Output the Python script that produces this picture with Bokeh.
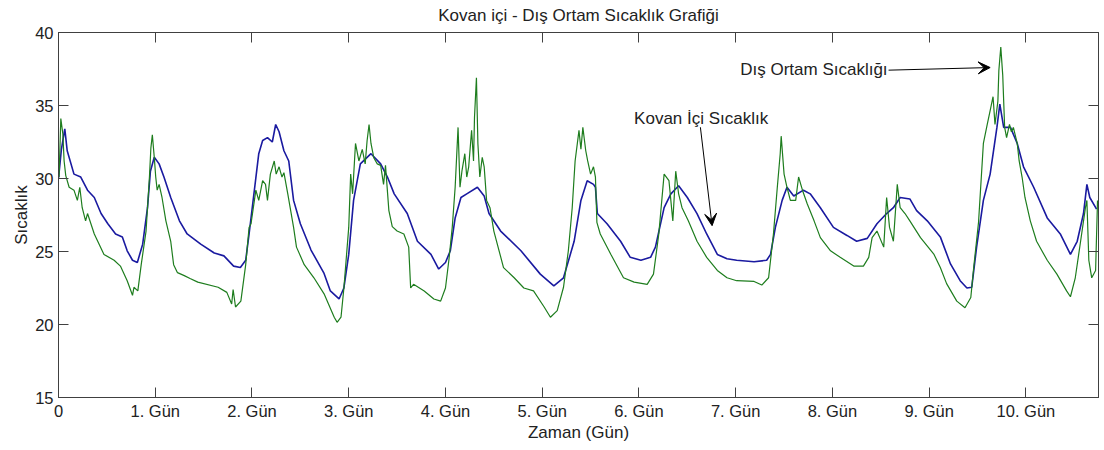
from bokeh.plotting import figure
from bokeh.models import Range1d, FixedTicker, LinearAxis, Label, Arrow, VeeHead
from bokeh.embed import file_html
from bokeh.resources import INLINE

# ---------------- data ----------------
title_text = "Kovan içi - Dış Ortam Sıcaklık Grafiği"
x_label = "Zaman (Gün)"
y_label = "Sıcaklık"

x_tick_values = [0, 1, 2, 3, 4, 5, 6, 7, 8, 9, 10]
x_tick_labels = ["0", "1. Gün", "2. Gün", "3. Gün", "4. Gün", "5. Gün",
                 "6. Gün", "7. Gün", "8. Gün", "9. Gün", "10. Gün"]
y_tick_values = [15, 20, 25, 30, 35, 40]

# Kovan içi (hive inside) temperature - blue
ic_gun = [
    0.00, 0.03, 0.065, 0.09, 0.16, 0.23, 0.30, 0.37, 0.44, 0.51,
    0.59, 0.66, 0.71, 0.765, 0.815, 0.87, 0.92, 0.95, 0.99, 1.04,
    1.09, 1.16, 1.25, 1.33, 1.47, 1.61, 1.71, 1.81, 1.88, 1.935,
    1.97, 2.02, 2.07, 2.11, 2.16, 2.21, 2.245, 2.28, 2.33, 2.38,
    2.43, 2.50, 2.61, 2.745, 2.81, 2.90, 2.95, 3.00, 3.05, 3.12,
    3.19, 3.23, 3.33, 3.40, 3.47, 3.605, 3.71, 3.85, 3.93, 4.00,
    4.05, 4.10, 4.16, 4.22, 4.33, 4.40, 4.45, 4.57, 4.78, 4.98,
    5.12, 5.22, 5.33, 5.40, 5.465, 5.53, 5.55, 5.57, 5.67, 5.81,
    5.91, 6.02, 6.12, 6.17, 6.26, 6.33, 6.41, 6.50, 6.60, 6.70,
    6.81, 6.91, 7.01, 7.19, 7.32, 7.36, 7.41, 7.48, 7.53, 7.60,
    7.70, 7.77, 7.875, 8.01, 8.15, 8.25, 8.36, 8.46, 8.56, 8.63,
    8.70, 8.80, 8.87, 8.98, 9.115, 9.22, 9.32, 9.39, 9.44, 9.49,
    9.56, 9.63, 9.70, 9.73, 9.77, 9.84, 9.91, 9.975, 10.08, 10.22,
    10.355, 10.46, 10.53, 10.595, 10.63, 10.66, 10.73,
]
ic_sicaklik = [
    30.0, 32.0, 33.4, 31.9, 30.3, 30.1, 29.2, 28.7, 27.6, 26.9,
    26.2, 26.0, 25.05, 24.4, 24.25, 25.5, 28.0, 30.5, 31.45, 31.0,
    30.1, 28.7, 27.1, 26.2, 25.5, 24.9, 24.7, 24.0, 23.9, 24.4,
    26.2, 28.95, 31.7, 32.6, 32.8, 32.5, 33.7, 33.2, 31.9, 31.2,
    28.5, 26.9, 25.1, 23.5, 22.3, 21.75, 22.5, 24.8, 28.5, 31.0,
    31.45, 31.7, 31.0, 30.1, 28.95, 27.6, 25.7, 24.8, 23.8, 24.25,
    25.05, 27.3, 28.7, 28.95, 29.4, 28.8, 27.6, 26.4, 25.05, 23.45,
    22.65, 23.2, 25.7, 28.5, 29.85, 29.6, 29.4, 27.6, 26.9, 25.7,
    24.6, 24.4, 24.6, 25.3, 28.0, 28.95, 29.5, 28.7, 27.6, 26.2,
    24.8, 24.5, 24.4, 24.3, 24.4, 24.8, 26.65, 28.5, 29.4, 28.8,
    29.2, 28.95, 28.0, 26.65, 26.1, 25.7, 25.9, 26.9, 27.6, 28.0,
    28.7, 28.6, 27.8, 27.1, 26.0, 24.15, 23.0, 22.5, 22.55, 25.3,
    28.5, 30.3, 33.5, 35.1, 33.5, 33.5, 32.4, 30.8, 29.4, 27.3,
    26.2, 24.8, 25.7, 27.6, 29.6, 28.7, 27.9,
]

# Dış ortam (outside) temperature - green
dis_gun = [
    0.006, 0.024, 0.045, 0.058, 0.075, 0.11, 0.16, 0.195, 0.22, 0.245,
    0.28, 0.30, 0.37, 0.47, 0.575, 0.64, 0.71, 0.765, 0.78, 0.82,
    0.855, 0.905, 0.94, 0.955, 0.97, 0.99, 1.005, 1.02, 1.04, 1.07,
    1.11, 1.16, 1.19, 1.23, 1.30, 1.36, 1.44, 1.65, 1.74, 1.79,
    1.805, 1.83, 1.885, 1.935, 1.97, 1.99, 2.04, 2.07, 2.11, 2.14,
    2.16, 2.19, 2.23, 2.25, 2.28, 2.31, 2.33, 2.37, 2.40, 2.43,
    2.46, 2.54, 2.64, 2.745, 2.85, 2.88, 2.92, 2.95, 3.00, 3.02,
    3.04, 3.07, 3.105, 3.14, 3.17, 3.19, 3.21, 3.23, 3.26, 3.295,
    3.33, 3.36, 3.38, 3.415, 3.45, 3.50, 3.57, 3.62, 3.64, 3.67,
    3.78, 3.88, 3.95, 4.00, 4.035, 4.07, 4.10, 4.13, 4.15, 4.17,
    4.20, 4.22, 4.24, 4.27, 4.29, 4.30, 4.32, 4.335, 4.355, 4.38,
    4.40, 4.425, 4.46, 4.50, 4.60, 4.71, 4.81, 4.91, 5.02, 5.085,
    5.155, 5.22, 5.27, 5.31, 5.34, 5.38, 5.40, 5.42, 5.45, 5.47,
    5.50, 5.53, 5.55, 5.565, 5.60, 5.71, 5.84, 5.95, 6.085, 6.15,
    6.205, 6.26, 6.31, 6.35, 6.38, 6.41, 6.445, 6.51, 6.60, 6.70,
    6.81, 6.91, 7.01, 7.19, 7.27, 7.34, 7.39, 7.43, 7.46, 7.47,
    7.50, 7.53, 7.565, 7.62, 7.65, 7.69, 7.74, 7.81, 7.875, 7.98,
    8.08, 8.22, 8.32, 8.375, 8.41, 8.46, 8.53, 8.56, 8.59, 8.63,
    8.67, 8.70, 8.75, 8.80, 8.91, 9.05, 9.115, 9.18, 9.285, 9.37,
    9.43, 9.46, 9.51, 9.56, 9.60, 9.63, 9.66, 9.68, 9.71, 9.72,
    9.74, 9.76, 9.78, 9.80, 9.83, 9.85, 9.87, 9.91, 9.93, 9.96,
    9.99, 10.045, 10.11, 10.22, 10.32, 10.42, 10.46, 10.51, 10.565, 10.615,
    10.63, 10.65, 10.68, 10.72, 10.74,
]
dis_sicaklik = [
    30.1, 34.1, 33.05, 31.2, 30.2, 29.4, 29.2, 28.5, 29.4, 28.0,
    27.1, 27.6, 26.2, 24.8, 24.4, 24.0, 23.0, 22.0, 22.55, 22.3,
    24.1, 26.4, 30.1, 32.1, 33.0, 31.45, 30.1, 29.2, 29.6, 28.7,
    27.1, 25.7, 24.1, 23.55, 23.35, 23.15, 22.9, 22.55, 22.2, 21.4,
    22.4, 21.2, 21.6, 24.1, 26.65, 26.9, 29.2, 28.5, 29.85, 29.6,
    28.5, 30.3, 31.2, 30.3, 30.8, 30.1, 30.4, 28.95, 27.8, 26.65,
    25.3, 24.1, 23.2, 22.1, 20.5, 20.15, 20.5, 22.5, 26.65, 30.3,
    28.95, 32.4, 31.2, 32.0, 31.0, 32.6, 33.7, 32.4, 31.4, 31.0,
    30.9, 29.6, 30.9, 27.8, 26.7, 26.4, 26.2, 25.3, 22.5, 22.75,
    22.3, 21.75, 21.6, 22.5, 24.4, 26.65, 29.4, 33.5, 29.4, 30.5,
    31.7, 30.1, 30.8, 33.3, 31.2, 34.2, 36.9, 32.4, 30.1, 31.45,
    30.8, 28.5, 28.0, 26.4, 23.9, 23.2, 22.5, 22.3, 21.2, 20.5,
    20.95, 22.55, 25.05, 28.0, 31.2, 33.3, 32.0, 33.5, 31.9, 31.2,
    30.3, 30.8, 30.1, 27.0, 26.2, 24.8, 23.2, 22.9, 22.75, 23.45,
    26.2, 30.3, 29.85, 27.1, 30.5, 28.95, 28.0, 27.1, 25.7, 24.6,
    23.7, 23.2, 23.0, 22.95, 22.7, 23.2, 26.2, 29.4, 31.7, 32.9,
    30.3, 29.4, 28.5, 28.5, 30.1, 29.2, 28.25, 27.1, 25.95, 25.05,
    24.6, 24.0, 24.0, 24.6, 25.95, 26.4, 25.3, 28.7, 26.65, 25.7,
    29.6, 28.0, 27.6, 27.1, 25.95, 24.8, 23.9, 22.8, 21.6, 21.15,
    21.85, 23.9, 27.0, 32.4, 33.7, 34.65, 35.6, 33.7, 35.3, 37.4,
    39.0, 37.1, 33.5, 32.8, 33.7, 33.2, 33.5, 32.4, 31.2, 30.1,
    28.7, 27.1, 25.7, 24.4, 23.45, 22.3, 21.9, 23.2, 25.7, 28.0,
    28.5, 24.4, 23.2, 23.7, 28.5,
]

# annotation texts and anchor points (data coordinates)
kovan_text = "Kovan İçi Sıcaklık"
kovan_text_xy = (6.643, 34.08)
kovan_arrow = (6.635, 33.51, 6.756, 26.77)
dis_text = "Dış Ortam Sıcaklığı"
dis_text_xy = (8.57, 37.45)
dis_arrow = (8.58, 37.42, 9.63, 37.6)

# ---------------- styling ----------------
FONT = "Liberation Sans"
AXIS_COLOR = "#404040"
TEXT_COLOR = "#222222"
BLUE = "#1a1aa0"
GREEN = "#1e7d1e"

p = figure(width=1104, height=450,
           x_range=Range1d(0, 10.75), y_range=Range1d(15, 40),
           output_backend="svg", toolbar_location=None, title=title_text,
           min_border_left=58, min_border_right=6,
           min_border_top=32, min_border_bottom=53)
p.title.align = "center"
p.title.vertical_align = "top"
p.title.text_font = FONT
p.title.text_font_size = "17px"
p.title.text_font_style = "normal"
p.title.text_color = TEXT_COLOR
p.title.standoff = 11
p.grid.visible = False
p.outline_line_color = AXIS_COLOR
p.outline_line_width = 1
p.background_fill_color = "white"
p.border_fill_color = "white"

p.line(ic_gun, ic_sicaklik, line_color=BLUE, line_width=1.6)
p.line(dis_gun, dis_sicaklik, line_color=GREEN, line_width=1.2)


def style_axis(ax):
    ax.minor_tick_line_color = None
    ax.major_tick_in = 10
    ax.major_tick_out = 0
    ax.axis_line_color = AXIS_COLOR
    ax.major_tick_line_color = AXIS_COLOR
    ax.major_label_text_font = FONT
    ax.major_label_text_color = TEXT_COLOR
    ax.axis_label_text_font = FONT
    ax.axis_label_text_font_style = "normal"
    ax.axis_label_text_color = TEXT_COLOR
    ax.axis_label_text_font_size = "17px"


xa = p.xaxis[0]
xa.ticker = FixedTicker(ticks=x_tick_values)
xa.major_label_overrides = {v: lab for v, lab in zip(x_tick_values, x_tick_labels)}
style_axis(xa)
xa.major_label_text_font_size = "16.5px"
xa.major_label_standoff = 4
xa.axis_label = x_label
xa.axis_label_standoff = 0

ya = p.yaxis[0]
ya.ticker = FixedTicker(ticks=y_tick_values)
style_axis(ya)
ya.major_label_text_font_size = "16.5px"
ya.major_label_standoff = 5
ya.axis_label = y_label
ya.axis_label_standoff = 1

# mirrored tick marks on the top and right edges (no labels)
top = LinearAxis(ticker=FixedTicker(ticks=x_tick_values))
style_axis(top)
top.major_label_text_font_size = "0px"
top.major_label_text_color = None
top.major_label_standoff = 0
p.add_layout(top, "above")

right = LinearAxis(ticker=FixedTicker(ticks=y_tick_values))
style_axis(right)
right.major_label_text_font_size = "0px"
right.major_label_text_color = None
right.major_label_standoff = 0
p.add_layout(right, "right")

# annotations
p.add_layout(Label(x=kovan_text_xy[0], y=kovan_text_xy[1], text=kovan_text,
                   text_align="center", text_baseline="middle", text_font=FONT,
                   text_font_size="17px", text_color=TEXT_COLOR))
p.add_layout(Arrow(end=VeeHead(size=12, fill_color="black", line_color="black"),
                   x_start=kovan_arrow[0], y_start=kovan_arrow[1],
                   x_end=kovan_arrow[2], y_end=kovan_arrow[3],
                   line_color="black", line_width=1))

p.add_layout(Label(x=dis_text_xy[0], y=dis_text_xy[1], text=dis_text,
                   text_align="right", text_baseline="middle", text_font=FONT,
                   text_font_size="17px", text_color=TEXT_COLOR))
p.add_layout(Arrow(end=VeeHead(size=12, fill_color="black", line_color="black"),
                   x_start=dis_arrow[0], y_start=dis_arrow[1],
                   x_end=dis_arrow[2], y_end=dis_arrow[3],
                   line_color="black", line_width=1))

open("out.html", "w").write(file_html(p, INLINE))
